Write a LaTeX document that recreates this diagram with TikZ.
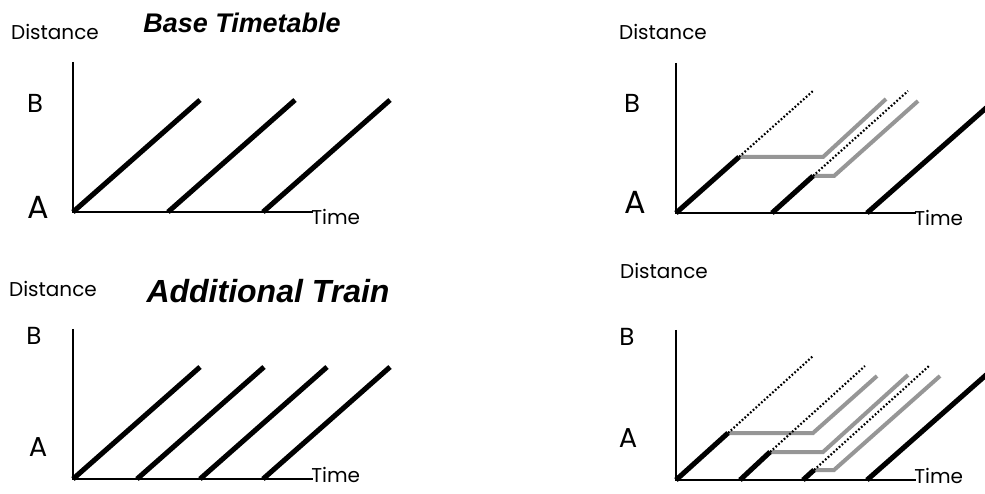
\documentclass[tikz,border=0pt]{standalone}
\usepackage{fontspec}
\setmainfont{Poppins}
\newfontfamily\ttlfont{Liberation Sans}
\usepackage{tikz}
\usetikzlibrary{positioning}
\definecolor{dlygray}{RGB}{150,150,150}
\newcommand{\ttaxes}[3]{%
  \coordinate (#1o) at (0,0);
  \coordinate (#1y) at (0,150);
  \coordinate (#1t) at (240,0);
  \draw[axl] (#1y) -- (#1o) -- (#1t);
  \node[tlab, anchor=base west] (#1time) at ([xshift=-1.5pt, yshift=#3]#1t) {Time};
  \node[dlab] (#1dist) at (#2) {Distance};}
\tikzset{
  axl/.style={line width=1.5pt},
  trn/.style={line width=3.8pt},
  dly/.style={dlygray, line width=3pt},
  sch/.style={line width=1.6pt, dash pattern=on 1.3pt off 1.5pt},
  dlab/.style={font=\fontsize{15}{15}\selectfont, inner sep=0pt},
  tlab/.style={font=\fontsize{15}{15}\selectfont, inner sep=0pt},
  plab/.style={font=\fontsize{#1}{#1}\selectfont, inner sep=0pt},
  ttl/.style={font=\ttlfont\bfseries\itshape\fontsize{#1}{#1}\selectfont, inner sep=0pt},
}

\begin{document}
\begin{tikzpicture}[x=0.75pt,y=0.75pt]
\useasboundingbox (0,0) rectangle (985,493);
\clip (0,0) rectangle (985,493);
% base timetable
\begin{scope}[shift={(73,281)}]
  \ttaxes{tl}{-18,180}{-9.5pt}
  \node[plab=19.5] (tlb) at (-38,109) {B};
  \node[plab=24] (tla) at (-35,5) {A};
  \node[ttl=20.2] (tlttl) at (169,189) {Base Timetable};
  \foreach \s in {0,95,190} \draw[trn] (\s,0) -- ++(127,112);
\end{scope}
% delayed train
\begin{scope}[shift={(676,280)}]
  \ttaxes{tr}{-13,181}{-9.5pt}
  \node[plab=19.5] (trb) at (-44,110) {B};
  \node[plab=24] (tra) at (-41,11) {A};
  \draw[dly] (63,56) -- (147,56) -- (210,114);
  \draw[dly] (137,37) -- (158,37) -- (242,112);
  \draw[sch] (63,56) -- (137,122);
  \draw[sch] (137,37) -- (232,122);
  \draw[trn] (0,0) -- (63,56);
  \draw[trn] (96,0) -- (137,37);
  \draw[trn] (191,0) -- ++(127,112);
\end{scope}
% additional train
\begin{scope}[shift={(73,14)}]
  \ttaxes{bl}{-20,190}{-2.5pt}
  \node[plab=18.5] (blb) at (-39,143) {B};
  \node[plab=20.5] (bla) at (-35,32) {A};
  \node[ttl=24] (blttl) at (195,188) {Additional Train};
  \foreach \s in {0,64,127,190} \draw[trn] (\s,0) -- ++(127,112);
\end{scope}
% knock-on delays
\begin{scope}[shift={(676,13)}]
  \ttaxes{br}{-12,209}{-2.5pt}
  \node[plab=18.5] (brb) at (-49,143) {B};
  \node[plab=20.5] (bra) at (-48,42) {A};
  \draw[dly] (52,47) -- (137,47) -- (201,104);
  \draw[dly] (94,28) -- (147,28) -- (232,105);
  \draw[dly] (138,10) -- (158,10) -- (264,104);
  \draw[sch] (52,47) -- (137,124);
  \draw[sch] (94,28) -- (189,114);
  \draw[sch] (138,10) -- (253,114);
  \draw[trn] (0,0) -- (52,47);
  \draw[trn] (64,0) -- (94,28);
  \draw[trn] (127,0) -- (138,10);
  \draw[trn] (191,0) -- ++(127,112);
\end{scope}
\end{tikzpicture}
\end{document}
